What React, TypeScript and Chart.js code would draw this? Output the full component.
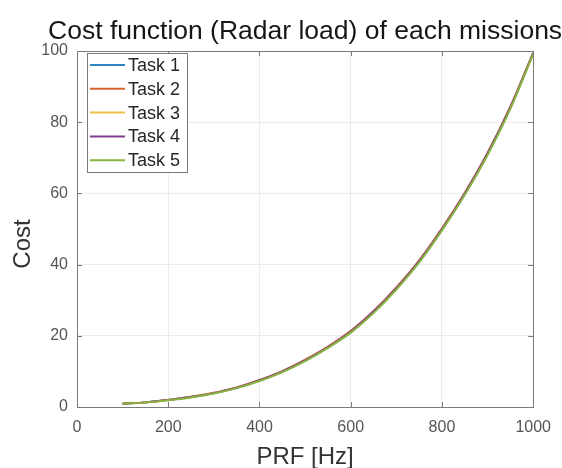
import React, { useEffect, useRef } from "react";
import { Chart, registerables } from "chart.js";

Chart.register(...registerables);

const prf = [100, 150, 200, 250, 300, 350, 400, 450, 500, 550, 600, 650, 700, 750, 800, 850, 900, 950, 1000];
const task1 = [0.9, 1.3, 2.0, 2.8, 3.9, 5.4, 7.4, 9.9, 13.0, 16.7, 21.0, 26.6, 33.2, 40.8, 49.8, 59.8, 71.0, 84.0, 99.5];
const task2 = [0.9, 1.3, 2.0, 2.9, 4.0, 5.5, 7.6, 10.1, 13.3, 17.0, 21.4, 27.0, 33.6, 41.2, 50.2, 60.2, 71.4, 84.4, 99.5];
const task3 = [0.9, 1.3, 2.0, 2.8, 3.9, 5.4, 7.4, 9.9, 13.1, 16.8, 21.1, 26.7, 33.3, 40.9, 49.9, 59.9, 71.1, 84.1, 99.3];
const task4 = [0.9, 1.3, 2.0, 2.8, 3.9, 5.4, 7.5, 10.0, 13.1, 16.8, 21.2, 26.8, 33.4, 41.0, 50.0, 60.0, 71.2, 84.2, 99.4];
const task5 = [0.9, 1.3, 1.9, 2.7, 3.8, 5.3, 7.3, 9.8, 12.9, 16.6, 20.9, 26.4, 33.0, 40.6, 49.6, 59.6, 70.8, 83.8, 99.2];

const taskLabels = ["Task 1", "Task 2", "Task 3", "Task 4", "Task 5"];
const taskValues = [task1, task2, task3, task4, task5];
const taskColors = ["#2f84c0", "#d8642f", "#eebf45", "#7e3f8e", "#86b43e"];

const xTicks = [0, 200, 400, 600, 800, 1000];
const yTicks = [0, 20, 40, 60, 80, 100];

const titleText = "Cost function (Radar load) of each missions";
const xTitle = "PRF [Hz]";
const yTitle = "Cost";

const FONT = "'Liberation Sans', Arial, Helvetica, sans-serif";

const decorPlugin = {
  id: "decor",
  afterDatasetsDraw(chart: any) {
    const { ctx, chartArea, scales } = chart;
    const { left, right, top, bottom } = chartArea;
    const xs = scales.x;
    const ys = scales.y;
    ctx.save();
    // axes box
    ctx.strokeStyle = "#7a7a7a";
    ctx.lineWidth = 1;
    ctx.strokeRect(Math.round(left) + 0.5, Math.round(top) + 0.5, Math.round(right - left), Math.round(bottom - top));
    // inward ticks
    const tl = 5;
    ctx.beginPath();
    xTicks.forEach((v) => {
      const px = Math.round(xs.getPixelForValue(v)) + 0.5;
      ctx.moveTo(px, bottom);
      ctx.lineTo(px, bottom - tl);
      ctx.moveTo(px, top);
      ctx.lineTo(px, top + tl);
    });
    yTicks.forEach((v) => {
      const py = Math.round(ys.getPixelForValue(v)) + 0.5;
      ctx.moveTo(left, py);
      ctx.lineTo(left + tl, py);
      ctx.moveTo(right, py);
      ctx.lineTo(right - tl, py);
    });
    ctx.stroke();

    // legend
    const lx = left + 10;
    const ly = top + 2;
    const lw = 100;
    const lh = 119;
    ctx.fillStyle = "#ffffff";
    ctx.fillRect(lx, ly, lw, lh);
    ctx.strokeStyle = "#7a7a7a";
    ctx.strokeRect(Math.round(lx) + 0.5, Math.round(ly) + 0.5, lw, lh);
    ctx.font = `18px ${FONT}`;
    ctx.textBaseline = "middle";
    ctx.textAlign = "left";
    chart.data.datasets.forEach((ds: any, i: number) => {
      const cy = ly + 12 + i * 23.8;
      ctx.strokeStyle = ds.borderColor;
      ctx.lineWidth = 2;
      ctx.beginPath();
      ctx.moveTo(lx + 3, cy);
      ctx.lineTo(lx + 38, cy);
      ctx.stroke();
      ctx.fillStyle = "#262626";
      ctx.fillText(ds.label, lx + 41, cy + 1);
    });
    ctx.restore();
  },
  afterDraw(chart: any) {
    const { ctx, chartArea } = chart;
    const { left, right } = chartArea;
    ctx.save();
    // main title
    ctx.fillStyle = "#161616";
    ctx.font = `26.5px ${FONT}`;
    ctx.textAlign = "center";
    ctx.textBaseline = "alphabetic";
    ctx.fillText(titleText, (left + right) / 2, 38.5);
    // x title
    ctx.fillStyle = "#333333";
    ctx.font = `24px ${FONT}`;
    ctx.fillText(xTitle, (left + right) / 2, 464);
    // y title
    ctx.translate(30, 244);
    ctx.rotate(-Math.PI / 2);
    ctx.fillText(yTitle, 0, 0);
    ctx.restore();
  },
};

export default function App() {
  const canvasRef = useRef<HTMLCanvasElement | null>(null);

  useEffect(() => {
    const canvas = canvasRef.current;
    if (!canvas) return;
    const datasets = taskLabels.map((label, i) => ({
      label,
      data: prf.map((x, j) => ({ x, y: taskValues[i][j] })),
      borderColor: taskColors[i],
      backgroundColor: taskColors[i],
      borderWidth: 2,
      pointRadius: 0,
      fill: false,
      cubicInterpolationMode: "monotone" as const,
      order: taskLabels.length - i,
    }));
    const chart = new Chart(canvas, {
      type: "line",
      data: { datasets },
      options: {
        animation: false,
        responsive: false,
        devicePixelRatio: 1,
        layout: { padding: { top: 51, right: 24, left: 0, bottom: 0 } },
        plugins: {
          legend: { display: false },
          tooltip: { enabled: false },
          title: { display: false },
        },
        scales: {
          x: {
            type: "linear",
            min: 0,
            max: 1000,
            afterFit: (s: any) => {
              s.height = 61;
            },
            afterBuildTicks: (s: any) => {
              s.ticks = xTicks.map((v) => ({ value: v }));
            },
            grid: { color: "#ebebeb", lineWidth: 1, drawTicks: false },
            border: { display: false },
            ticks: {
              color: "#555555",
              font: { family: FONT, size: 16 },
              padding: 11,
              maxRotation: 0,
              callback: (v: any) => String(v),
            },
          },
          y: {
            type: "linear",
            min: 0,
            max: 100,
            afterFit: (s: any) => {
              s.width = 77;
            },
            afterBuildTicks: (s: any) => {
              s.ticks = yTicks.map((v) => ({ value: v }));
            },
            grid: { color: "#ebebeb", lineWidth: 1, drawTicks: false },
            border: { display: false },
            ticks: {
              color: "#555555",
              font: { family: FONT, size: 16 },
              padding: 9,
              callback: (v: any) => String(v),
            },
          },
        },
      },
      plugins: [decorPlugin],
    });
    return () => chart.destroy();
  }, []);

  return (
    <div style={{ position: "absolute", left: 0, top: 0, width: 562, height: 468, background: "#ffffff" }}>
      <canvas ref={canvasRef} width={562} height={468} />
    </div>
  );
}
